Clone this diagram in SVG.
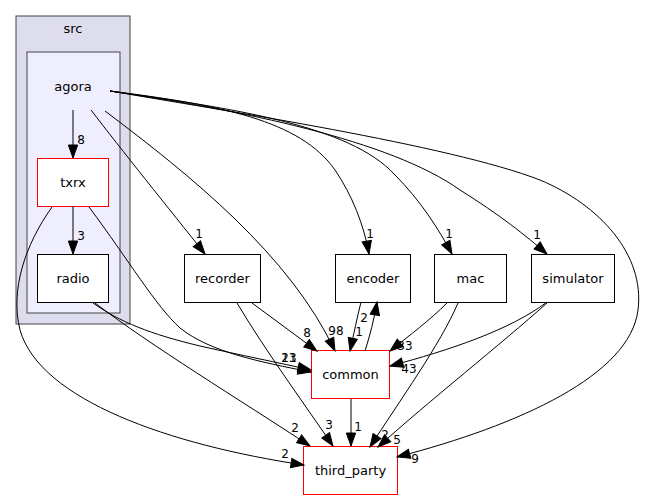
<svg xmlns="http://www.w3.org/2000/svg" width="645" height="500" viewBox="0 0 645 500">
<defs>
<marker id="ah" markerUnits="userSpaceOnUse" markerWidth="13" markerHeight="10" refX="13" refY="4.67" orient="auto" overflow="visible">
<path d="M0,0 L13,4.67 L0,9.33 z" fill="#000" stroke="#000" stroke-width="1"/>
</marker>
</defs>
<style>
text{font-family:"DejaVu Sans",sans-serif;font-size:13px;fill:#000}
.n text{text-anchor:middle}
.box{fill:#fff;stroke:#000;stroke-width:1}
.red{fill:#fff;stroke:#ff0000;stroke-width:1}
.e path{fill:none;stroke:#000;stroke-width:1;marker-end:url(#ah)}
.lbl{text-anchor:middle;font-size:12px}
</style>
<rect width="645" height="500" fill="#fff"/>
<g id="cluster_src">
<rect x="16" y="16" width="114" height="308" fill="#ddddee" stroke="#444" stroke-width="1"/>
<text x="73" y="32.5" text-anchor="middle">src</text>
</g>
<g id="cluster_agora">
<rect x="27" y="52" width="93" height="261" fill="#eeeeff" stroke="#444" stroke-width="1"/>
<text x="73" y="90.5" text-anchor="middle">agora</text>
</g>
<g id="txrx" class="n"><rect class="red" x="37.5" y="158.5" width="71" height="48"/><text x="73" y="186.5">txrx</text></g>
<g id="radio" class="n"><rect class="box" x="37.5" y="254.5" width="71" height="48"/><text x="73" y="282.5">radio</text></g>
<g id="recorder" class="n"><rect class="box" x="184.5" y="254.5" width="76" height="48"/><text x="222.5" y="282.5">recorder</text></g>
<g id="encoder" class="n"><rect class="box" x="335.5" y="254.5" width="75" height="48"/><text x="373" y="282.5">encoder</text></g>
<g id="mac" class="n"><rect class="box" x="434.5" y="254.5" width="72" height="48"/><text x="470.5" y="282.5">mac</text></g>
<g id="simulator" class="n"><rect class="box" x="531.5" y="254.5" width="83" height="48"/><text x="573" y="282.5">simulator</text></g>
<g id="common" class="n"><rect class="red" x="311.5" y="350.5" width="78" height="48"/><text x="350.5" y="378.5">common</text></g>
<g id="third_party" class="n"><rect class="red" x="303.5" y="446.5" width="94" height="48"/><text x="350.5" y="474.5">third_party</text></g>
<g id="connectors" class="e">
<path d="M73,110 L73,158"/>
<path d="M73,206 L73,254"/>
<path d="M91,110 C120,148 170,210 205,254"/>
<path d="M105,111 C190,175 290,255 335,351"/>
<path d="M110,91 C220,105 300,120 335,170 C352,195 364,225 369,254"/>
<path d="M110,91 C230,108 350,125 395,175 C420,200 438,228 452,254"/>
<path d="M110,91 C240,110 390,140 460,190 C500,215 525,235 547,254"/>
<path d="M110,91 C220,110 450,145 540,180 C600,205 645,255 638,310 C630,375 520,425 397,457"/>
<path d="M89,207 C130,262 155,305 180,328 C210,352 260,362 311,372"/>
<path d="M93,303 C120,322 150,334 200,346 C240,355 280,363 311,370"/>
<path d="M52,207 C25,245 10,290 20,330 C40,400 170,445 304,465"/>
<path d="M95,303 C150,345 240,400 310,446"/>
<path d="M252,303 L317,351"/>
<path d="M237,303 C265,350 305,405 333,446"/>
<path d="M361,302 C357,318 354,333 350,351"/>
<path d="M365,351 C370,335 374,320 377,302"/>
<path d="M447,303 C430,320 410,335 390,351"/>
<path d="M458,303 C440,345 400,400 370,447"/>
<path d="M547,302 C510,330 450,350 390,366"/>
<path d="M547,303 C500,345 430,400 378,447"/>
<path d="M351,399 L351,446"/>
</g>
<g id="labels">
<text class="lbl" x="81" y="143.5">8</text>
<text class="lbl" x="81" y="239.5">3</text>
<text class="lbl" x="199" y="237.5">1</text>
<text class="lbl" x="336" y="334.5">98</text>
<text class="lbl" x="370" y="237.5">1</text>
<text class="lbl" x="449" y="237.5">1</text>
<text class="lbl" x="537" y="238.5">1</text>
<text class="lbl" x="415" y="462.5">9</text>
<text class="lbl" x="289" y="362">23</text>
<text class="lbl" x="289" y="362">11</text>
<text class="lbl" x="285" y="457.5">2</text>
<text class="lbl" x="295" y="432">2</text>
<text class="lbl" x="307" y="336.5">8</text>
<text class="lbl" x="329" y="428.5">3</text>
<text class="lbl" x="359" y="336">1</text>
<text class="lbl" x="364" y="321.5">2</text>
<text class="lbl" x="405" y="349.5">33</text>
<text class="lbl" x="385" y="438.5">2</text>
<text class="lbl" x="409" y="373">43</text>
<text class="lbl" x="397" y="444">5</text>
<text class="lbl" x="358" y="431">1</text>
</g>
</svg>
